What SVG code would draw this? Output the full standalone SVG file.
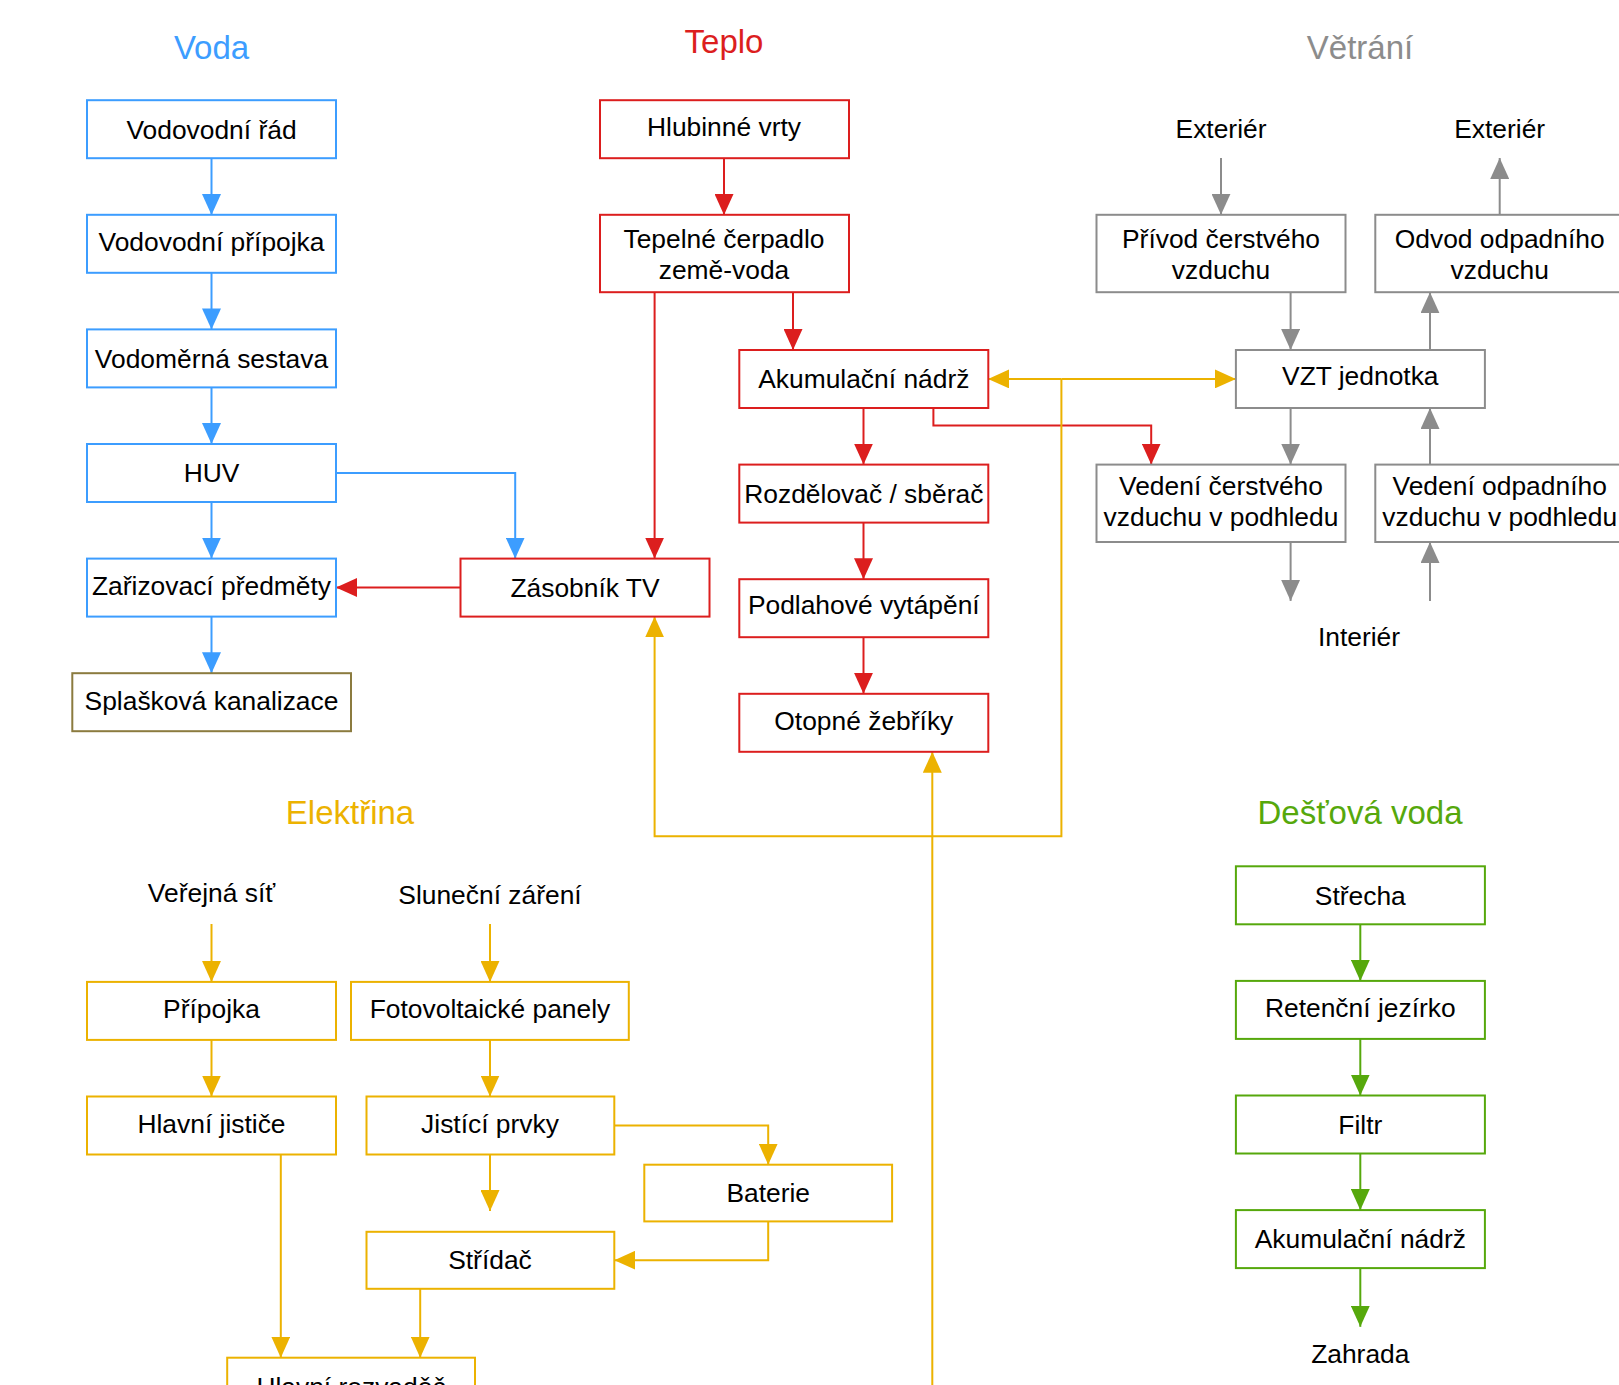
<svg xmlns="http://www.w3.org/2000/svg" width="1619" height="1385" viewBox="0 0 1619 1385">
<style>
text{font-family:"Liberation Sans",Arial,sans-serif;font-size:26.4px;fill:#000;text-anchor:middle}
.title{font-size:33px}
.box{fill:#fff;stroke-width:2}
.c{fill:none;stroke-width:2}
.blue{stroke:#3c9dff}.red{stroke:#dc1e1e}.gray{stroke:#8c8c8c}.yel{stroke:#ecb200}.grn{stroke:#56a80c}.brn{stroke:#8b7b3f}
</style>
<defs>
<marker id="ab" markerUnits="userSpaceOnUse" markerWidth="21" markerHeight="19" refX="21" refY="9.5" orient="auto"><path d="M0,0L21,9.5L0,19Z" fill="#3c9dff"/></marker>
<marker id="ar" markerUnits="userSpaceOnUse" markerWidth="21" markerHeight="19" refX="21" refY="9.5" orient="auto"><path d="M0,0L21,9.5L0,19Z" fill="#dc1e1e"/></marker>
<marker id="ag" markerUnits="userSpaceOnUse" markerWidth="21" markerHeight="19" refX="21" refY="9.5" orient="auto"><path d="M0,0L21,9.5L0,19Z" fill="#8c8c8c"/></marker>
<marker id="ay" markerUnits="userSpaceOnUse" markerWidth="21" markerHeight="19" refX="21" refY="9.5" orient="auto"><path d="M0,0L21,9.5L0,19Z" fill="#ecb200"/></marker>
<marker id="an" markerUnits="userSpaceOnUse" markerWidth="21" markerHeight="19" refX="21" refY="9.5" orient="auto"><path d="M0,0L21,9.5L0,19Z" fill="#56a80c"/></marker>
</defs>
<rect width="1619" height="1385" fill="#fff"/>

<g id="titles">
<text class="title" x="211.5" y="59" style="fill:#3c9dff">Voda</text>
<text class="title" x="724" y="53" style="fill:#dc1e1e">Teplo</text>
<text class="title" x="1360" y="59" style="fill:#8c8c8c">Větrání</text>
<text class="title" x="350" y="824" style="fill:#ecb200">Elektřina</text>
<text class="title" x="1360" y="824" style="fill:#56a80c">Dešťová voda</text>
</g>

<g id="connectors">
<path class="c blue" d="M211.5,158V215" marker-end="url(#ab)"/>
<path class="c blue" d="M211.5,273V329.4" marker-end="url(#ab)"/>
<path class="c blue" d="M211.5,387.4V444" marker-end="url(#ab)"/>
<path class="c blue" d="M211.5,502V558.6" marker-end="url(#ab)"/>
<path class="c blue" d="M211.5,616.6V673.2" marker-end="url(#ab)"/>
<path class="c blue" d="M336,473H515.2V558.6" marker-end="url(#ab)"/>
<path class="c red" d="M724,158V215" marker-end="url(#ar)"/>
<path class="c red" d="M793,292.4V350" marker-end="url(#ar)"/>
<path class="c red" d="M654.6,292.4V558.6" marker-end="url(#ar)"/>
<path class="c red" d="M460.5,587.5H336" marker-end="url(#ar)"/>
<path class="c red" d="M863.5,408V464.6" marker-end="url(#ar)"/>
<path class="c red" d="M863.5,522.6V579.2" marker-end="url(#ar)"/>
<path class="c red" d="M863.5,637.2V693.8" marker-end="url(#ar)"/>
<path class="c red" d="M933.4,408V425.4H1151.2V464.6" marker-end="url(#ar)"/>
<path class="c gray" d="M1221,158V214.8" marker-end="url(#ag)"/>
<path class="c gray" d="M1499.7,214.8V158" marker-end="url(#ag)"/>
<path class="c gray" d="M1290.6,292.2V350" marker-end="url(#ag)"/>
<path class="c gray" d="M1430,350V292.2" marker-end="url(#ag)"/>
<path class="c gray" d="M1290.6,408V464.6" marker-end="url(#ag)"/>
<path class="c gray" d="M1430,464.6V408" marker-end="url(#ag)"/>
<path class="c gray" d="M1290.6,542V600.9" marker-end="url(#ag)"/>
<path class="c gray" d="M1430,600.9V542" marker-end="url(#ag)"/>
<path class="c yel" d="M1061.4,378.9H988.1" marker-end="url(#ay)"/>
<path class="c yel" d="M1061.4,378.9H1235.9" marker-end="url(#ay)"/>
<path class="c yel" d="M1061.4,378.9V836.3H654.6V616.4" marker-end="url(#ay)"/>
<path class="c yel" d="M932.3,1390V751.8" marker-end="url(#ay)"/>
<path class="c yel" d="M211.5,924V981.9" marker-end="url(#ay)"/>
<path class="c yel" d="M490,924V981.9" marker-end="url(#ay)"/>
<path class="c yel" d="M211.5,1039.9V1096.5" marker-end="url(#ay)"/>
<path class="c yel" d="M490,1039.9V1096.5" marker-end="url(#ay)"/>
<path class="c yel" d="M490,1154.5V1211.1" marker-end="url(#ay)"/>
<path class="c yel" d="M614.3,1125.4H768.2V1164.7" marker-end="url(#ay)"/>
<path class="c yel" d="M768.2,1221.6V1260.2H614.3" marker-end="url(#ay)"/>
<path class="c yel" d="M280.8,1154.5V1357.7" marker-end="url(#ay)"/>
<path class="c yel" d="M420.2,1289V1357.7" marker-end="url(#ay)"/>
<path class="c grn" d="M1360.3,924.1V980.9" marker-end="url(#an)"/>
<path class="c grn" d="M1360.3,1038.9V1095.5" marker-end="url(#an)"/>
<path class="c grn" d="M1360.3,1153.5V1210.1" marker-end="url(#an)"/>
<path class="c grn" d="M1360.3,1268.1V1326.8" marker-end="url(#an)"/>
</g>

<g id="vodovodni-rad"><rect class="box blue" x="87" y="100.2" width="249" height="58"/><text x="211.5" y="138.5">Vodovodní řád</text></g>
<g id="vodovodni-pripojka"><rect class="box blue" x="87" y="214.8" width="249" height="58"/><text x="211.5" y="251">Vodovodní přípojka</text></g>
<g id="vodomerna-sestava"><rect class="box blue" x="87" y="329.4" width="249" height="58"/><text x="211.5" y="367.6">Vodoměrná sestava</text></g>
<g id="huv"><rect class="box blue" x="87" y="444" width="249" height="58"/><text x="211.5" y="482.2">HUV</text></g>
<g id="zarizovaci-predmety"><rect class="box blue" x="87" y="558.6" width="249" height="58"/><text x="211.5" y="594.8">Zařizovací předměty</text></g>
<g id="splaskova-kanalizace"><rect class="box brn" x="72.3" y="673.2" width="278.7" height="58"/><text x="211.5" y="710.4">Splašková kanalizace</text></g>

<g id="hlubinne-vrty"><rect class="box red" x="600" y="100.2" width="249" height="58"/><text x="724" y="136">Hlubinné vrty</text></g>
<g id="tepelne-cerpadlo"><rect class="box red" x="600" y="214.8" width="249" height="77.4"/><text x="724" y="247.8">Tepelné čerpadlo</text><text x="724" y="278.8">země-voda</text></g>
<g id="akumulacni-nadrz"><rect class="box red" x="739.3" y="350" width="249" height="58"/><text x="863.8" y="388.2">Akumulační nádrž</text></g>
<g id="zasobnik-tv"><rect class="box red" x="460.5" y="558.6" width="249" height="58"/><text x="585" y="596.8">Zásobník TV</text></g>
<g id="rozdelovac"><rect class="box red" x="739.3" y="464.6" width="249" height="58"/><text x="863.8" y="502.8">Rozdělovač / sběrač</text></g>
<g id="podlahove-vytapeni"><rect class="box red" x="739.3" y="579.2" width="249" height="58"/><text x="863.8" y="614.4">Podlahové vytápění</text></g>
<g id="otopne-zebriky"><rect class="box red" x="739.3" y="693.8" width="249" height="58"/><text x="863.8" y="730">Otopné žebříky</text></g>

<text x="1221" y="138">Exteriér</text>
<text x="1499.7" y="138">Exteriér</text>
<g id="privod"><rect class="box gray" x="1096.5" y="214.8" width="249" height="77.4"/><text x="1221" y="247.8">Přívod čerstvého</text><text x="1221" y="278.8">vzduchu</text></g>
<g id="odvod"><rect class="box gray" x="1375.3" y="214.8" width="249" height="77.4"/><text x="1499.7" y="247.8">Odvod odpadního</text><text x="1499.7" y="278.8">vzduchu</text></g>
<g id="vzt-jednotka"><rect class="box gray" x="1235.9" y="350" width="249" height="58"/><text x="1360.3" y="385">VZT jednotka</text></g>
<g id="vedeni-cerstveho"><rect class="box gray" x="1096.5" y="464.6" width="249" height="77.4"/><text x="1221" y="495">Vedení čerstvého</text><text x="1221" y="526">vzduchu v podhledu</text></g>
<g id="vedeni-odpadniho"><rect class="box gray" x="1375.3" y="464.6" width="249" height="77.4"/><text x="1499.7" y="495">Vedení odpadního</text><text x="1499.7" y="526">vzduchu v podhledu</text></g>
<text x="1359" y="646">Interiér</text>

<text x="211.5" y="902">Veřejná síť</text>
<text x="490" y="904">Sluneční záření</text>
<g id="pripojka"><rect class="box yel" x="87" y="981.9" width="249" height="58"/><text x="211.5" y="1018">Přípojka</text></g>
<g id="fotovoltaicke-panely"><rect class="box yel" x="351" y="981.9" width="277.8" height="58"/><text x="490" y="1018">Fotovoltaické panely</text></g>
<g id="hlavni-jistice"><rect class="box yel" x="87" y="1096.5" width="249" height="58"/><text x="211.5" y="1132.7">Hlavní jističe</text></g>
<g id="jistici-prvky"><rect class="box yel" x="366.5" y="1096.5" width="247.8" height="58"/><text x="490" y="1132.7">Jistící prvky</text></g>
<g id="baterie"><rect class="box yel" x="644.3" y="1164.7" width="247.8" height="56.7"/><text x="768.2" y="1202.4">Baterie</text></g>
<g id="stridac"><rect class="box yel" x="366.5" y="1231.8" width="247.8" height="57"/><text x="490" y="1268.5">Střídač</text></g>
<g id="hlavni-rozvadec"><rect class="box yel" x="227.2" y="1357.7" width="247.8" height="58"/><text x="351" y="1396">Hlavní rozvaděč</text></g>

<g id="strecha"><rect class="box grn" x="1235.9" y="866.3" width="249" height="58"/><text x="1360.3" y="904.5">Střecha</text></g>
<g id="retencni-jezirko"><rect class="box grn" x="1235.9" y="980.9" width="249" height="58"/><text x="1360.3" y="1017">Retenční jezírko</text></g>
<g id="filtr"><rect class="box grn" x="1235.9" y="1095.5" width="249" height="58"/><text x="1360.3" y="1133.7">Filtr</text></g>
<g id="akumulacni-nadrz-destova"><rect class="box grn" x="1235.9" y="1210.1" width="249" height="58"/><text x="1360.3" y="1248.3">Akumulační nádrž</text></g>
<text x="1360.3" y="1363">Zahrada</text>
</svg>
